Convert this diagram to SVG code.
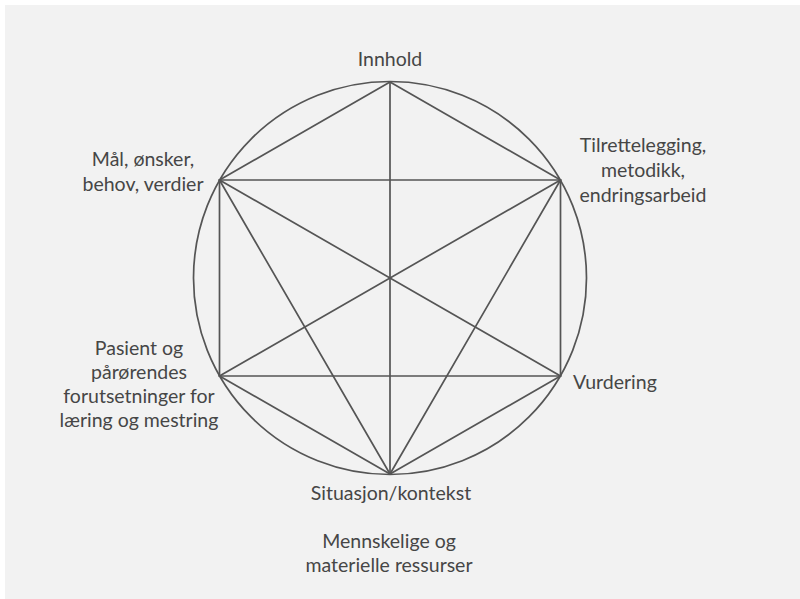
<svg xmlns="http://www.w3.org/2000/svg" width="800" height="599" viewBox="0 0 800 599">
  <style>
    .bg { fill: #f2f2f2; }
    .edge { stroke: #555555; stroke-width: 1.7; fill: none; stroke-linecap: round; }
    .lbl { font-family: "Lato", "Open Sans", "Liberation Sans", sans-serif; font-size: 19.5px; fill: #464646; }
    .mid { text-anchor: middle; }
  </style>
  <rect x="0" y="0" width="800" height="599" fill="#ffffff"/>
  <rect class="bg" x="5" y="5" width="795" height="594"/>

  <g id="circle">
    <circle class="edge" cx="390" cy="278" r="196.5"/>
  </g>

  <g id="connectors">
    <line class="edge" x1="390" y1="82" x2="219.5" y2="180"/>
    <line class="edge" x1="390" y1="82" x2="560.5" y2="180"/>
    <line class="edge" x1="390" y1="82" x2="390" y2="474"/>
    <line class="edge" x1="219.5" y1="180" x2="560.5" y2="180"/>
    <line class="edge" x1="219.5" y1="180" x2="219.5" y2="376"/>
    <line class="edge" x1="560.5" y1="180" x2="560.5" y2="376"/>
    <line class="edge" x1="219.5" y1="180" x2="560.5" y2="376"/>
    <line class="edge" x1="560.5" y1="180" x2="219.5" y2="376"/>
    <line class="edge" x1="219.5" y1="180" x2="390" y2="474"/>
    <line class="edge" x1="560.5" y1="180" x2="390" y2="474"/>
    <line class="edge" x1="219.5" y1="376" x2="560.5" y2="376"/>
    <line class="edge" x1="219.5" y1="376" x2="390" y2="474"/>
    <line class="edge" x1="560.5" y1="376" x2="390" y2="474"/>
  </g>

  <g id="node-innhold">
    <text class="lbl mid" x="390" y="66">Innhold</text>
  </g>

  <g id="node-maal">
    <text class="lbl mid" x="143" y="166">Mål, ønsker,</text>
    <text class="lbl mid" x="143" y="191">behov, verdier</text>
  </g>

  <g id="node-tilrettelegging">
    <text class="lbl mid" x="643" y="152">Tilrettelegging,</text>
    <text class="lbl mid" x="643" y="177">metodikk,</text>
    <text class="lbl mid" x="643" y="202">endringsarbeid</text>
  </g>

  <g id="node-pasient">
    <text class="lbl mid" x="139" y="355">Pasient og</text>
    <text class="lbl mid" x="139" y="379">pårørendes</text>
    <text class="lbl mid" x="139" y="403">forutsetninger for</text>
    <text class="lbl mid" x="139" y="427">læring og mestring</text>
  </g>

  <g id="node-vurdering">
    <text class="lbl" x="573" y="389">Vurdering</text>
  </g>

  <g id="node-situasjon">
    <text class="lbl mid" x="391" y="500">Situasjon/kontekst</text>
    <text class="lbl mid" x="389" y="548">Mennskelige og</text>
    <text class="lbl mid" x="389" y="572">materielle ressurser</text>
  </g>
</svg>
